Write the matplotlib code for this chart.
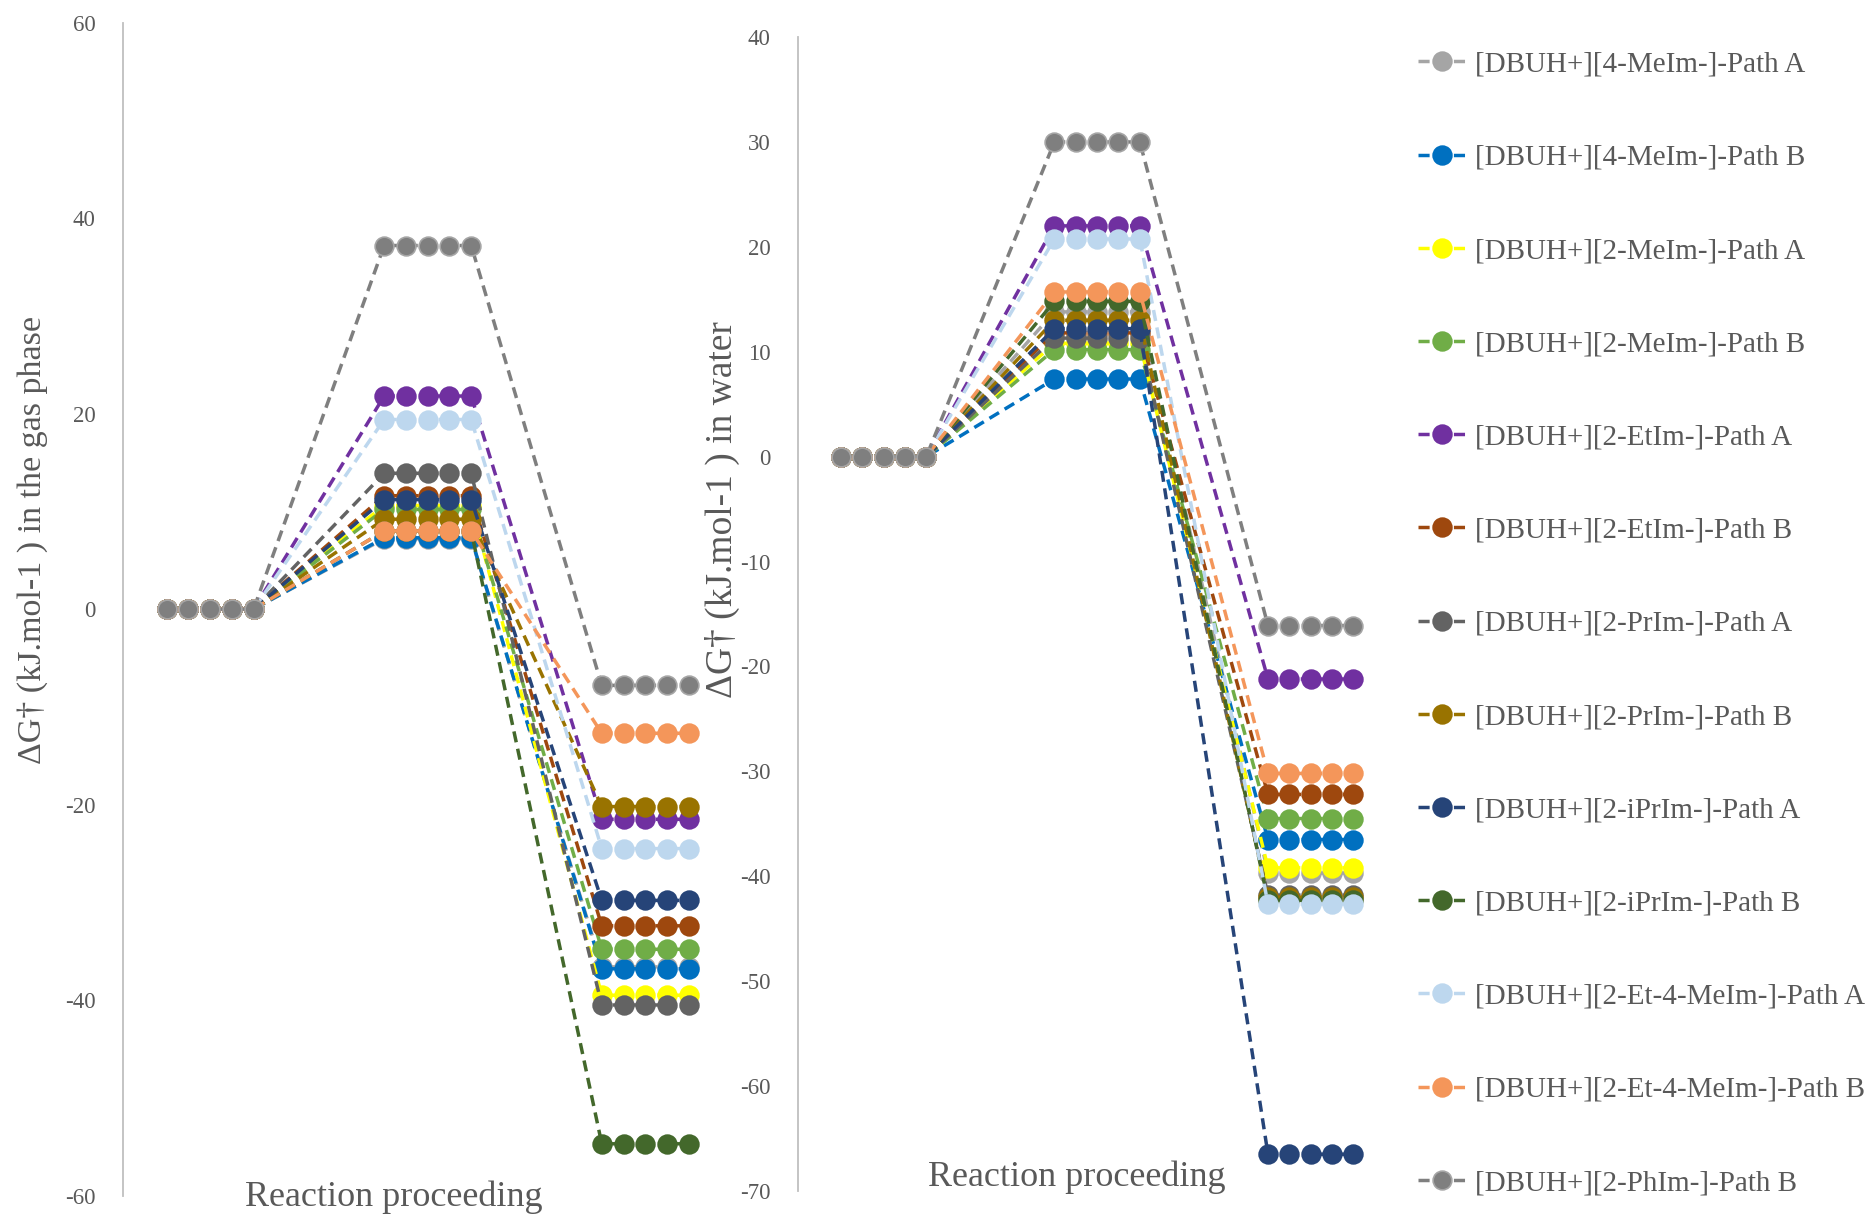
import numpy as np
import matplotlib.pyplot as plt

plt.rcParams['font.family'] = ['Liberation Serif', 'DejaVu Serif']
plt.rcParams['axes.unicode_minus'] = False

# DATA
labels = [
    "[DBUH+][4-MeIm-]-Path A",
    "[DBUH+][4-MeIm-]-Path B",
    "[DBUH+][2-MeIm-]-Path A",
    "[DBUH+][2-MeIm-]-Path B",
    "[DBUH+][2-EtIm-]-Path A",
    "[DBUH+][2-EtIm-]-Path B",
    "[DBUH+][2-PrIm-]-Path A",
    "[DBUH+][2-PrIm-]-Path B",
    "[DBUH+][2-iPrIm-]-Path A",
    "[DBUH+][2-iPrIm-]-Path B",
    "[DBUH+][2-Et-4-MeIm-]-Path A",
    "[DBUH+][2-Et-4-MeIm-]-Path B",
    "[DBUH+][2-PhIm-]-Path B",
]
colors = ["#A5A5A5", "#0070C0", "#FFFF00", "#70AD47", "#7030A0", "#9E480E",
          "#636363", "#997300", "#264478", "#43682B", "#BDD7EE", "#F4965A",
          "#7F7F7F"]
edge_colors = colors[:-1] + ["#A5A5A5"]

# energies (kJ/mol): reactant is 0 for every series
gas_ts = [7.2, 7.3, 10.6, 10.2, 21.8, 11.6, 13.9, 9.2, 11.2, 8.0, 19.4, 8.0, 37.2]
gas_prod = [-36.6, -36.8, -39.5, -34.8, -21.5, -32.4, -40.5, -20.2, -29.8,
            -54.7, -24.5, -12.7, -7.8]
water_ts = [13.8, 7.4, 10.8, 10.2, 22.0, 11.8, 11.3, 13.0, 12.2, 14.8, 20.75,
            15.7, 30.0]
water_prod = [-39.7, -36.5, -39.2, -34.5, -21.2, -32.2, -41.8, -42.0, -66.5,
              -42.3, -42.65, -30.2, -16.1]

points_per_stage = 5
stage_start = [0, 10, 20]

x = np.concatenate([np.arange(s, s + points_per_stage) for s in stage_start])

text_color = "#595959"

fig = plt.figure(figsize=(18.73, 12.19), dpi=100)
ax1 = fig.add_axes([0.0657, 0.0192, 0.3253, 0.9622])
ax2 = fig.add_axes([0.4261, 0.0230, 0.3193, 0.9466])


def draw_panel(ax, ts, prod, ylim, yticks):
    handles = []
    for i in range(len(labels)):
        y = np.repeat([0.0, ts[i], prod[i]], points_per_stage)
        h, = ax.plot(x, y, linestyle=(0, (3.2, 1.9)), linewidth=2.5,
                     color=colors[i], marker="o", markersize=13.5,
                     markerfacecolor=colors[i], markeredgecolor=edge_colors[i],
                     markeredgewidth=1.2, dash_capstyle="butt",
                     label=labels[i])
        handles.append(h)
    ax.set_xlim(-2, 26)
    ax.set_ylim(*ylim)
    ax.set_yticks(yticks)
    ax.set_xticks([])
    for s in ["top", "right", "bottom"]:
        ax.spines[s].set_visible(False)
    ax.spines["left"].set_color("#BFBFBF")
    ax.spines["left"].set_linewidth(1.3)
    ax.tick_params(axis="y", length=0, pad=20, labelsize=16.5, labelcolor=text_color)
    return handles


handles = draw_panel(ax1, gas_ts, gas_prod, (-60, 60), np.arange(-60, 61, 20))
draw_panel(ax2, water_ts, water_prod, (-70, 40), np.arange(-70, 41, 10))

fig.text(0.0176, 0.557, "ΔG† (kJ.mol-1 ) in the gas phase", rotation=90,
         ha="center", va="center", fontsize=24.5, color=text_color)
fig.text(0.3855, 0.5816, "ΔG† (kJ.mol-1 ) in water", rotation=90,
         ha="center", va="center", fontsize=27, color=text_color)
fig.text(0.2105, 0.018, "Reaction proceeding", ha="center", va="center",
         fontsize=26, color=text_color)
fig.text(0.575, 0.034, "Reaction proceeding", ha="center", va="center",
         fontsize=26, color=text_color)

leg = fig.legend(handles=handles, loc="upper left", bbox_to_anchor=(0.757, 0.958),
                 frameon=False, fontsize=21, handlelength=1.65, handletextpad=0.3,
                 labelspacing=2.29, borderpad=0, borderaxespad=0)
for t in leg.get_texts():
    t.set_color(text_color)

fig.savefig("out.png", dpi=100)
